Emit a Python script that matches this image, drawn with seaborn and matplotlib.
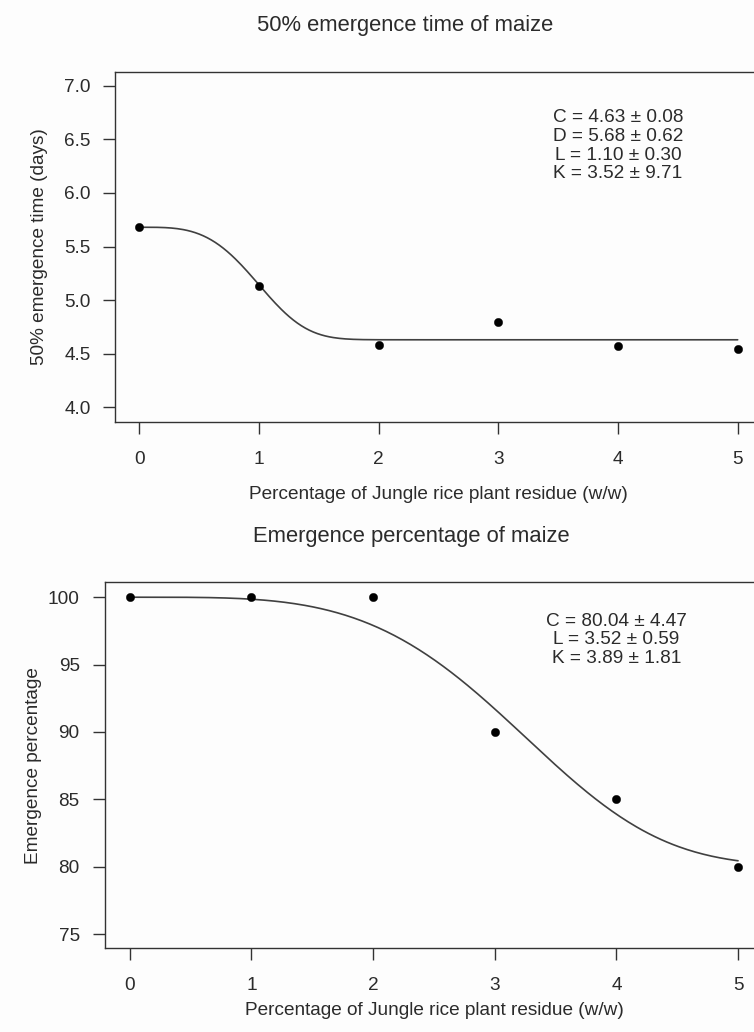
import numpy as np
import pandas as pd
import matplotlib
matplotlib.use("Agg")
import matplotlib.pyplot as plt
import seaborn as sns

residue = [0, 1, 2, 3, 4, 5]
time50 = [5.68, 5.13, 4.58, 4.80, 4.575, 4.54]
emergence = [100, 100, 100, 90, 85, 80]

# Fitted parameters shown on the panels
fit_time = {"C": 4.63, "D": 5.68, "L": 1.10, "K": 3.52}
fit_emer = {"C": 80.04, "D": 100.0, "L": 3.52, "K": 3.89}
label_time = ["C = 4.63 \u00b1 0.08", "D = 5.68 \u00b1 0.62",
              "L = 1.10 \u00b1 0.30", "K = 3.52 \u00b1 9.71"]
label_emer = ["C = 80.04 \u00b1 4.47", "L = 3.52 \u00b1 0.59",
              "K = 3.89 \u00b1 1.81"]

xlab = "Percentage of Jungle rice plant residue (w/w)"


def fitted(p, x):
    # Weibull-type decrease used for both fits
    return p["C"] + (p["D"] - p["C"]) * np.exp(-(x / p["L"]) ** p["K"])


xs = np.linspace(0, 5, 300)
pts = pd.DataFrame({"x": residue, "t50": time50, "emer": emergence})
curve = pd.DataFrame({"x": xs, "t50": fitted(fit_time, xs), "emer": fitted(fit_emer, xs)})

sns.set_theme(style="ticks")
plt.rcParams["font.family"] = ["Liberation Sans", "DejaVu Sans"]
txt = "#2b2b2b"
plt.rcParams.update({
    "text.color": txt, "axes.labelcolor": txt,
    "xtick.color": "#333333", "ytick.color": "#333333",
    "xtick.labelcolor": txt, "ytick.labelcolor": txt,
    "axes.edgecolor": "#333333", "axes.linewidth": 1.0,
})

fig = plt.figure(figsize=(7.54, 10.32), dpi=100, facecolor="#fdfdfd")
ax1 = fig.add_axes([0.1529, 0.5914, 0.8572, 0.3391], facecolor="#fdfdfd")
ax2 = fig.add_axes([0.1399, 0.0811, 0.8712, 0.3547], facecolor="#fdfdfd")

fs = 13.7

for ax, col, p_lines, ylab, ylim, yt, tpos, ylx, ypad in [
    (ax1, "t50", label_time, "50% emergence time (days)", (3.866, 7.131),
     np.arange(4.0, 7.01, 0.5), (4, 6.44), -0.1165, 9.4),
    (ax2, "emer", label_emer, "Emergence percentage", (73.94, 101.11),
     np.arange(75, 101, 5), (4, 96.85), -0.1092, 10.3),
]:
    sns.lineplot(data=curve, x="x", y=col, ax=ax, color="#404040", linewidth=1.2)
    sns.scatterplot(data=pts, x="x", y=col, ax=ax, color="black", s=36,
                    edgecolor="black", linewidth=0.3, zorder=3)
    ax.set_xlim(-0.2, 5.2)
    ax.set_ylim(*ylim)
    ax.set_xticks(residue)
    ax.set_yticks(yt)
    if col == "t50":
        ax.set_yticklabels([f"{v:.1f}" for v in yt])
    ax.tick_params(axis="x", length=8.3, width=1.0, pad=12.7, labelsize=fs)
    ax.tick_params(axis="y", length=8.3, width=1.0, pad=ypad, labelsize=fs)
    for s in ax.spines.values():
        s.set_visible(True)
    ax.set_xlabel(xlab, fontsize=fs)
    ax.set_ylabel(ylab, fontsize=fs)
    ax.yaxis.set_label_coords(ylx, 0.5)
    ax.yaxis.label.set_va("center")
    ax.text(tpos[0], tpos[1], "\n".join(p_lines), ha="center", va="center",
            fontsize=fs, linespacing=1.12, color=txt)

ax1.xaxis.set_label_coords(0.5, -0.2209)
ax1.xaxis.label.set_va("baseline")
ax2.xaxis.set_label_coords(0.5, -0.1822)
ax2.xaxis.label.set_va("baseline")

fig.text(404.7 / 754, 1 - 30.7 / 1032, "50% emergence time of maize",
         ha="center", va="baseline", fontsize=15.8, color=txt)
fig.text(411 / 754, 1 - 542 / 1032, "Emergence percentage of maize",
         ha="center", va="baseline", fontsize=15.8, color=txt)

fig.savefig("out.png", dpi=100, facecolor=fig.get_facecolor())
